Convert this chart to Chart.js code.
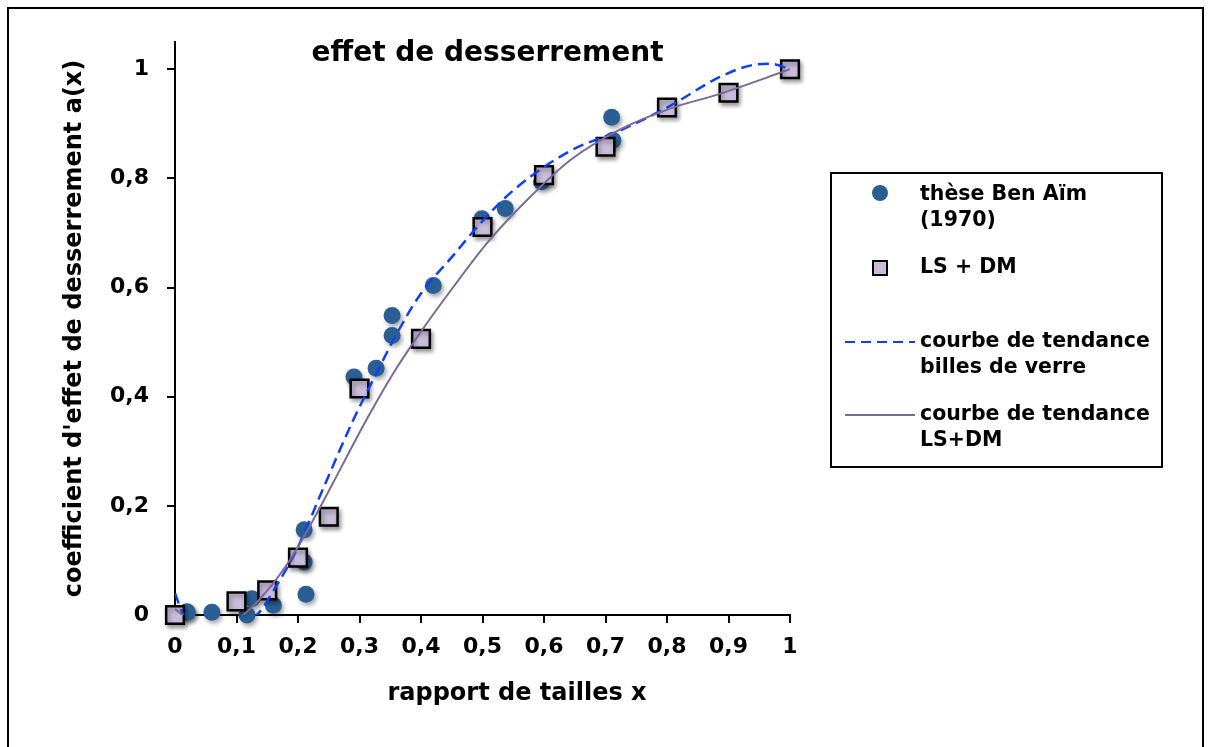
<!DOCTYPE html>
<html>
<head>
<meta charset="utf-8">
<script src="https://cdn.jsdelivr.net/npm/chart.js@4.4.1/dist/chart.umd.min.js"></script>
<style>
  body { margin: 0; background: #fff; }
  #wrap { position: relative; width: 1208px; height: 747px; }
</style>
</head>
<body>
<div id="wrap"><canvas id="myChart" width="1208" height="747"></canvas></div>
<script>
// thèse Ben Aïm (1970)
var benAimX = [0.019, 0.02, 0.06, 0.117, 0.125, 0.16, 0.21, 0.21, 0.213, 0.291, 0.327, 0.353, 0.353, 0.42, 0.499, 0.537, 0.596, 0.71, 0.712];
var benAimY = [0.006, 0.005, 0.005, 0.0, 0.03, 0.018, 0.156, 0.097, 0.038, 0.436, 0.452, 0.549, 0.512, 0.604, 0.726, 0.745, 0.794, 0.912, 0.87];

// LS + DM
var lsdmX = [0, 0.1, 0.15, 0.2, 0.25, 0.3, 0.4, 0.5, 0.6, 0.7, 0.8, 0.9, 1];
var lsdmY = [0, 0.025, 0.045, 0.105, 0.18, 0.415, 0.506, 0.711, 0.806, 0.858, 0.93, 0.957, 1];

// courbe de tendance billes de verre
var trendVerreX = [0, 0.014, 0.07, 0.133, 0.163, 0.198, 0.241, 0.291, 0.333, 0.358, 0.398, 0.4525, 0.496, 0.55, 0.642, 0.724, 0.805, 0.886, 0.94, 0.97, 1.0];
var trendVerreY = [0.04, 0, -0.03, 0, 0.05, 0.12, 0.232, 0.36, 0.455, 0.51, 0.586, 0.659, 0.717, 0.778, 0.85, 0.888, 0.933, 0.986, 1.008, 1.01, 1.0];

// courbe de tendance LS+DM (solid curve)
var trendLsdmX = [0, 0.012, 0.06, 0.111, 0.154, 0.192, 0.23, 0.256, 0.31, 0.355, 0.398, 0.4525, 0.507, 0.572, 0.642, 0.724, 0.805, 0.886, 1.0];
var trendLsdmY = [0.011, 0, -0.03, 0, 0.05, 0.11, 0.185, 0.24, 0.355, 0.443, 0.516, 0.601, 0.681, 0.76, 0.833, 0.89, 0.928, 0.955, 1.0];

var xTicks = [0, 0.1, 0.2, 0.3, 0.4, 0.5, 0.6, 0.7, 0.8, 0.9, 1];
var yTicks = [0, 0.2, 0.4, 0.6, 0.8, 1];

var chartTitle = "effet de desserrement";
var xTitle = "rapport de tailles x";
var yTitle = "coefficient d'effet de desserrement a(x)";
var legendLabels = [["thèse Ben Aïm", "(1970)"], ["LS + DM"], ["courbe de tendance", "billes de verre"], ["courbe de tendance", "LS+DM"]];

var FONT = "'DejaVu Sans', sans-serif";
var circleColor = "#2b5f93";
var squareFill = "#c8bcd8";
var blueLine = "#1040f0";
var purpleLine = "#7a6a95";

function pts(xs, ys) {
  var out = [];
  for (var i = 0; i < xs.length; i++) out.push({ x: xs[i], y: ys[i] });
  return out;
}

function comma(v) {
  return String(Math.round(v * 10) / 10).replace(".", ",");
}

// soft shadow under the markers
var shadowPlugin = {
  id: "shadow",
  beforeDatasetDraw: function (chart, args) {
    var ctx = chart.ctx;
    ctx.save();
    if (args.index < 2) {
      ctx.shadowColor = "rgba(0,0,0,0.35)";
      ctx.shadowBlur = 4;
      ctx.shadowOffsetX = 2;
      ctx.shadowOffsetY = 3;
    }
  },
  afterDatasetDraw: function (chart) {
    chart.ctx.restore();
  }
};

// frame, title, x axis title, legend box
var extrasPlugin = {
  id: "extras",
  beforeDraw: function (chart) {
    var ctx = chart.ctx;
    ctx.save();
    ctx.fillStyle = "#fff";
    ctx.fillRect(0, 0, chart.width, chart.height);
    ctx.strokeStyle = "#000";
    ctx.lineWidth = 2;
    ctx.strokeRect(8, 8, 1195, 760);
    ctx.restore();
  },
  afterDraw: function (chart) {
    var ctx = chart.ctx;
    var area = chart.chartArea;
    ctx.save();
    ctx.fillStyle = "#000";
    ctx.textAlign = "center";
    ctx.textBaseline = "middle";
    ctx.font = "bold 28px " + FONT;
    ctx.fillText(chartTitle, (area.left + area.right) / 2 + 5, 54);
    ctx.font = "bold 24px " + FONT;
    ctx.fillText(xTitle, 517, 694);

    // legend
    ctx.strokeStyle = "#000";
    ctx.lineWidth = 2;
    ctx.strokeRect(831, 173, 331, 294);
    ctx.font = "bold 20.5px " + FONT;
    ctx.textAlign = "left";
    var rows = [195, 268, 342, 415];
    for (var i = 0; i < legendLabels.length; i++) {
      for (var j = 0; j < legendLabels[i].length; j++) {
        ctx.fillText(legendLabels[i][j], 920, rows[i] + j * 26);
      }
    }
    ctx.fillStyle = circleColor;
    ctx.beginPath();
    ctx.arc(880, 193, 8, 0, Math.PI * 2);
    ctx.fill();
    ctx.fillStyle = squareFill;
    ctx.fillRect(873, 261, 14, 14);
    ctx.lineWidth = 2;
    ctx.strokeRect(873, 261, 14, 14);
    ctx.strokeStyle = blueLine;
    ctx.setLineDash([10, 6]);
    ctx.beginPath();
    ctx.moveTo(845, 342);
    ctx.lineTo(915, 342);
    ctx.stroke();
    ctx.setLineDash([]);
    ctx.strokeStyle = purpleLine;
    ctx.beginPath();
    ctx.moveTo(845, 415);
    ctx.lineTo(915, 415);
    ctx.stroke();
    ctx.restore();
  }
};

var ctx = document.getElementById("myChart").getContext("2d");
var myChart = new Chart(ctx, {
  type: "scatter",
  data: {
    datasets: [
      {
        label: legendLabels[0].join(" "),
        data: pts(benAimX, benAimY),
        pointStyle: "circle",
        pointRadius: 8.5,
        pointBackgroundColor: circleColor,
        pointBorderWidth: 0,
        clip: false,
        order: 4
      },
      {
        label: legendLabels[1].join(" "),
        data: pts(lsdmX, lsdmY),
        pointStyle: "rect",
        pointRadius: 12.5,
        pointBackgroundColor: squareFill,
        pointBorderColor: "#000",
        pointBorderWidth: 2.5,
        clip: false,
        order: 3
      },
      {
        label: legendLabels[2].join(" "),
        data: pts(trendVerreX, trendVerreY),
        showLine: true,
        pointRadius: 0,
        borderColor: blueLine,
        borderWidth: 2.5,
        borderDash: [11, 6],
        cubicInterpolationMode: "monotone",
        order: 2
      },
      {
        label: legendLabels[3].join(" "),
        data: pts(trendLsdmX, trendLsdmY),
        showLine: true,
        pointRadius: 0,
        borderColor: purpleLine,
        borderWidth: 2,
        cubicInterpolationMode: "monotone",
        order: 1
      }
    ]
  },
  options: {
    responsive: false,
    animation: false,
    layout: { padding: { left: 0, right: 418, top: 42, bottom: 0 } },
    plugins: {
      legend: { display: false },
      title: { display: false },
      tooltip: { enabled: false }
    },
    scales: {
      x: {
        type: "linear",
        min: 0,
        max: 1,
        afterFit: function (s) { s.height = 132; },
        afterBuildTicks: function (s) { s.ticks = xTicks.map(function (v) { return { value: v }; }); },
        ticks: {
          color: "#000",
          padding: 11,
          autoSkip: false,
          maxRotation: 0,
          font: { family: FONT, size: 22, weight: "bold" },
          callback: function (v) { return comma(v); }
        },
        grid: { drawOnChartArea: false, drawTicks: true, tickLength: 8, color: "#000", lineWidth: 2 },
        border: { color: "#000", width: 2 }
      },
      y: {
        type: "linear",
        min: 0,
        max: 1.05,
        afterFit: function (s) { s.width = 175; },
        afterBuildTicks: function (s) { s.ticks = yTicks.map(function (v) { return { value: v }; }); },
        ticks: {
          color: "#000",
          padding: 18,
          font: { family: FONT, size: 22, weight: "bold" },
          callback: function (v) { return comma(v); }
        },
        grid: { drawOnChartArea: false, drawTicks: true, tickLength: 8, color: "#000", lineWidth: 2 },
        border: { color: "#000", width: 2 },
        title: {
          display: true,
          text: yTitle,
          color: "#000",
          font: { family: FONT, size: 24, weight: "bold" },
          padding: { top: 60, bottom: 0 }
        }
      }
    }
  },
  plugins: [shadowPlugin, extrasPlugin]
});
</script>
</body>
</html>
